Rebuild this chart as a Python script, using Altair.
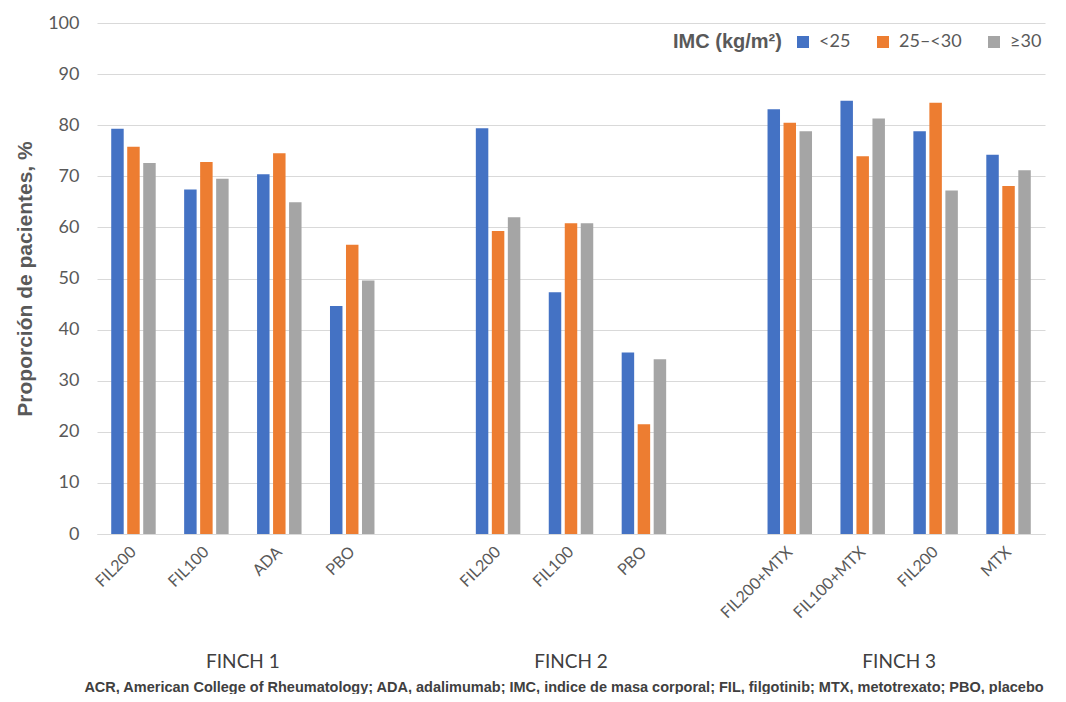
import altair as alt
import pandas as pd

# ---- data ----
studies = ["FINCH 1"] * 4 + ["FINCH 2"] * 3 + ["FINCH 3"] * 4
treatments = ["FIL200", "FIL100", "ADA", "PBO",
              "FIL200", "FIL100", "PBO",
              "FIL200+MTX", "FIL100+MTX", "FIL200", "MTX"]
bmi_lt25 = [79.3, 67.4, 70.4, 44.6, 79.4, 47.3, 35.5, 83.1, 84.8, 78.8, 74.2]
bmi_25_30 = [75.8, 72.8, 74.5, 56.6, 59.3, 60.8, 21.5, 80.5, 73.9, 84.4, 68.1]
bmi_ge30 = [72.6, 69.5, 64.9, 49.6, 62.0, 60.8, 34.2, 78.8, 81.3, 67.2, 71.2]
series = ["<25", "25\u2013<30", "\u226530"]
colors = ["#4472C4", "#ED7D31", "#A5A5A5"]
group_labels = ["FINCH 1", "FINCH 2", "FINCH 3"]
group_anchor = ["FINCH 1|FIL100", "FINCH 2|FIL100", "FINCH 3|FIL100+MTX"]
group_between = [1, 0, 1]  # 1: label sits between anchor slot and the next one
footnote = ("ACR, American College of Rheumatology; ADA, adalimumab; IMC, indice de masa corporal; "
            "FIL, filgotinib; MTX, metotrexato; PBO, placebo")

# slot keys (with empty spacer slots between studies)
slot_keys = [f"{s}|{t}" for s, t in zip(studies, treatments)]
domain = slot_keys[:4] + ["gap1"] + slot_keys[4:7] + ["gap2"] + slot_keys[7:]

rows = []
for i, key in enumerate(slot_keys):
    for name, vals in zip(series, [bmi_lt25, bmi_25_30, bmi_ge30]):
        rows.append({"slot": key, "serie": name, "value": vals[i]})
df = pd.DataFrame(rows)

TXT = "#595959"
W, H = 948, 511
xscale = alt.Scale(domain=domain, paddingInner=0.39, paddingOuter=0.195)

bars = alt.Chart(df).mark_bar().encode(
    x=alt.X("slot:N", scale=xscale,
            axis=alt.Axis(title=None, labelAngle=-45, labelAlign="right", labelBaseline="middle",
                          labelExpr="indexof(datum.value,'|')>=0 ? split(datum.value,'|')[1] : ''",
                          labelFont="Lato", labelFontSize=16, labelColor=TXT, labelPadding=15,
                          ticks=False, domain=True, domainColor="#D9D9D9", labelOverlap=False)),
    xOffset=alt.XOffset("serie:N", sort=series,
                        scale=alt.Scale(domain=series, paddingInner=0.22, paddingOuter=0)),
    y=alt.Y("value:Q", scale=alt.Scale(domain=[0, 100], nice=False),
            axis=alt.Axis(title="Proporción de pacientes, %", values=list(range(0, 101, 10)),
                          labelFont="Lato", labelFontSize=18, labelColor=TXT, labelPadding=18,
                          ticks=False, domain=False, gridColor="#D9D9D9",
                          titleFont="Liberation Sans", titleFontSize=21, titleFontWeight="bold",
                          titleColor=TXT, titlePadding=12)),
    color=alt.Color("serie:N", sort=series,
                    scale=alt.Scale(domain=series, range=colors),
                    legend=alt.Legend(title="IMC (kg/m\u00b2)", orient="none", legendX=576, legendY=10,
                                      direction="horizontal", titleOrient="left",
                                      symbolType="square", symbolSize=144, symbolStrokeWidth=0,
                                      labelFont="Lato", labelFontSize=18, labelColor=TXT,
                                      titleFont="Liberation Sans", titleFontSize=20,
                                      titleFontWeight="bold", titleColor=TXT,
                                      columnPadding=23, labelOffset=7, titlePadding=12)),
)

gdf = pd.DataFrame({"label": group_labels, "slot": group_anchor, "between": group_between})


def group_text(between, dx):
    return alt.Chart(gdf).transform_filter(alt.datum.between == between).mark_text(
        font="Lato", fontSize=19, color="#404040", dx=dx, baseline="middle"
    ).encode(x=alt.X("slot:N", scale=xscale), y=alt.value(639), text="label:N")


fdf = pd.DataFrame({"t": [footnote]})
foot = alt.Chart(fdf).mark_text(
    font="Liberation Sans", fontSize=14.5, fontWeight="bold", color="#404040", baseline="middle"
).encode(x=alt.value(467), y=alt.value(665), text="t:N")

chart = alt.layer(bars, group_text(1, 36.5), group_text(0, 0), foot).properties(
    width=W, height=H,
    autosize=alt.AutoSizeParams(type="none"),
    padding={"left": 89, "top": 15, "right": 13, "bottom": 160},
).configure_view(stroke=None)

chart.save("out.html", embed_options={"renderer": "svg", "actions": False})
